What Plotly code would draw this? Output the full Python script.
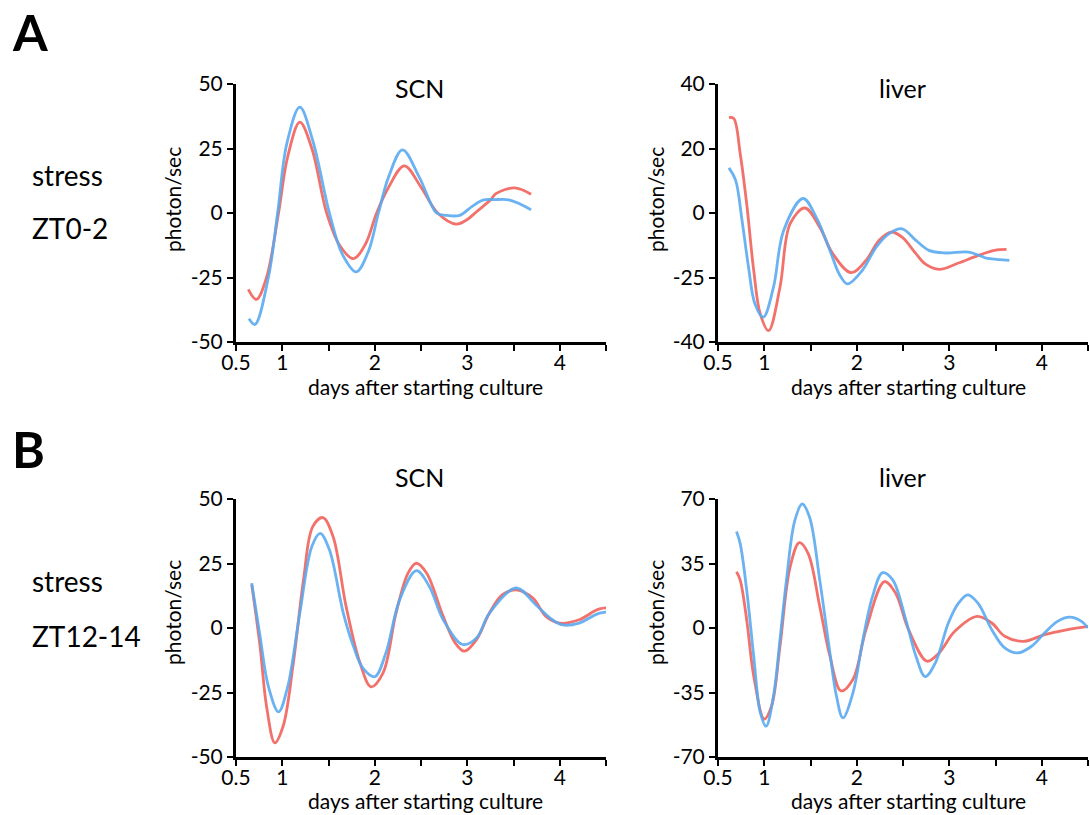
import plotly.graph_objects as go

# ---------------- data ----------------
# Panel A, SCN
a_scn_red_x = [0.633, 0.72, 0.83, 0.96, 1.06, 1.19, 1.32, 1.48, 1.62, 1.77, 1.90, 2.02, 2.15, 2.32, 2.50, 2.68, 2.88, 3.00, 3.10, 3.25, 3.31, 3.51, 3.69]
a_scn_red_y = [-29.6, -33.5, -25.0, 0.0, 22.0, 35.2, 25.0, 0.0, -12.5, -17.7, -12.0, 0.0, 10.0, 18.3, 10.0, 0.0, -4.3, -2.5, 0.5, 5.0, 7.5, 9.7, 7.3]
a_scn_blue_x = [0.64, 0.705, 0.85, 0.95, 1.05, 1.19, 1.33, 1.51, 1.65, 1.80, 1.93, 2.04, 2.15, 2.30, 2.48, 2.67, 2.77, 2.92, 3.05, 3.17, 3.30, 3.46, 3.69]
a_scn_blue_y = [-41.0, -43.2, -25.0, 0.0, 27.0, 41.0, 28.0, 0.0, -16.0, -22.8, -15.0, 0.0, 14.0, 24.5, 14.0, 0.0, -0.9, -0.9, 2.5, 5.0, 5.2, 5.0, 1.3]

# Panel A, liver (plotted on a linear scale; tick labels as printed)
a_liv_red_x = [0.618, 0.67, 0.74, 0.81, 0.886, 0.957, 1.046, 1.17, 1.28, 1.44, 1.60, 1.74, 1.94, 2.10, 2.24, 2.37, 2.49, 2.64, 2.74, 2.89, 3.10, 3.31, 3.49, 3.62]
a_liv_red_y = [29.6, 29.3, 18.4, 2.9, -17.8, -31.3, -36.5, -23.0, -3.3, 1.55, -4.4, -12.6, -18.5, -14.7, -8.5, -5.9, -7.5, -12.6, -15.8, -17.5, -15.5, -13.2, -11.6, -11.3]
a_liv_blue_x = [0.618, 0.69, 0.76, 0.83, 0.90, 0.99, 1.10, 1.21, 1.42, 1.56, 1.71, 1.81, 1.90, 2.06, 2.21, 2.35, 2.49, 2.64, 2.78, 2.96, 3.21, 3.39, 3.46, 3.65]
a_liv_blue_y = [14.0, 10.2, -2.3, -16.8, -28.2, -32.3, -23.0, -5.4, 4.5, -1.2, -11.6, -18.9, -22.0, -17.8, -10.6, -6.4, -4.9, -8.5, -11.6, -12.4, -12.1, -13.9, -14.2, -14.7]

# Panel B, SCN
b_scn_red_x = [0.67, 0.76, 0.83, 0.92, 1.01, 1.12, 1.23, 1.33, 1.44, 1.55, 1.69, 1.84, 1.96, 2.09, 2.23, 2.36, 2.45, 2.56, 2.74, 2.87, 2.97, 3.10, 3.24, 3.38, 3.53, 3.71, 3.85, 4.00, 4.21, 4.43, 4.63]
b_scn_red_y = [16.8, -7.1, -30.3, -44.5, -38.0, -13.5, 18.7, 39.3, 42.8, 35.4, 8.4, -13.5, -22.8, -17.4, 5.8, 21.3, 25.1, 21.3, 4.5, -5.8, -9.0, -4.5, 5.8, 12.9, 14.8, 11.6, 4.5, 1.9, 3.2, 7.4, 7.7]
b_scn_blue_x = [0.67, 0.76, 0.85, 0.96, 1.06, 1.19, 1.32, 1.41, 1.51, 1.66, 1.77, 1.87, 2.00, 2.12, 2.27, 2.45, 2.59, 2.74, 2.95, 3.10, 3.24, 3.53, 3.74, 3.92, 4.03, 4.21, 4.43, 4.63]
b_scn_blue_y = [17.4, -3.2, -22.6, -32.5, -22.6, 5.8, 31.6, 36.7, 30.3, 5.8, -7.1, -15.5, -18.9, -9.7, 11.0, 22.2, 16.1, 3.2, -6.4, -3.9, 5.8, 15.5, 9.0, 3.2, 1.2, 1.9, 5.8, 6.2]

# Panel B, liver
b_liv_red_x = [0.70, 0.74, 0.81, 0.886, 1.00, 1.08, 1.17, 1.28, 1.38, 1.475, 1.60, 1.71, 1.83, 1.96, 2.10, 2.30, 2.42, 2.56, 2.76, 2.89, 3.06, 3.30, 3.46, 3.60, 3.81, 4.03, 4.28, 4.50]
b_liv_red_y = [30.5, 26.0, 4.5, -26.0, -49.4, -42.2, -9.9, 33.2, 46.3, 40.4, 11.7, -15.3, -34.1, -27.8, -0.9, 25.1, 18.9, -0.9, -18.0, -13.5, -1.8, 6.3, 2.7, -4.5, -7.2, -3.6, -0.9, 0.9]
b_liv_blue_x = [0.70, 0.74, 0.81, 0.886, 0.957, 1.02, 1.10, 1.17, 1.24, 1.33, 1.41, 1.49, 1.60, 1.71, 1.78, 1.85, 1.96, 2.06, 2.17, 2.28, 2.39, 2.53, 2.64, 2.74, 2.85, 2.99, 3.10, 3.20, 3.31, 3.46, 3.60, 3.74, 3.89, 4.03, 4.17, 4.30, 4.43, 4.50]
b_liv_blue_y = [52.4, 45.8, 20.6, -15.3, -45.8, -53.3, -36.8, -6.3, 26.0, 58.3, 67.3, 60.1, 26.0, -13.5, -36.8, -48.8, -35.0, -8.1, 17.0, 30.0, 26.0, 4.5, -15.3, -26.4, -18.9, 2.7, 13.5, 18.0, 13.5, -0.9, -10.8, -13.5, -9.9, -2.7, 3.6, 5.9, 3.6, 0.0]

x_tickvals = [0.5, 1, 1.5, 2, 2.5, 3, 3.5, 4, 4.5]
x_ticktext = ["0.5", "1", "", "2", "", "3", "", "4", ""]

a_scn_yvals = [-50, -25, 0, 25, 50]
a_scn_ytext = ["-50", "-25", "0", "25", "50"]
a_liv_yvals = [-40, -20, 0, 20, 40]
a_liv_ytext = ["-40", "-25", "0", "20", "40"]
b_scn_yvals = [-50, -25, 0, 25, 50]
b_scn_ytext = ["-50", "-25", "0", "25", "50"]
b_liv_yvals = [-70, -35, 0, 35, 70]
b_liv_ytext = ["-70", "-35", "0", "35", "70"]

RED = "#F2625C"
BLUE = "#5AAAF0"
FONT = "Lato"

W, H = 1090, 815

fig = go.Figure()

panels = [
    ("x", "y", a_scn_red_x, a_scn_red_y, a_scn_blue_x, a_scn_blue_y),
    ("x2", "y2", a_liv_red_x, a_liv_red_y, a_liv_blue_x, a_liv_blue_y),
    ("x3", "y3", b_scn_red_x, b_scn_red_y, b_scn_blue_x, b_scn_blue_y),
    ("x4", "y4", b_liv_red_x, b_liv_red_y, b_liv_blue_x, b_liv_blue_y),
]
for xa, ya, rx, ry, bx, by in panels:
    fig.add_trace(go.Scatter(x=rx, y=ry, xaxis=xa, yaxis=ya, mode="lines",
                             line=dict(color=RED, width=2.8, shape="spline", smoothing=1.0),
                             opacity=0.9, showlegend=False, hoverinfo="skip"))
    fig.add_trace(go.Scatter(x=bx, y=by, xaxis=xa, yaxis=ya, mode="lines",
                             line=dict(color=BLUE, width=2.8, shape="spline", smoothing=1.0),
                             opacity=0.9, showlegend=False, hoverinfo="skip"))


def px_x(p):
    return p / W


def px_y(p):
    return 1 - p / H


left_dom = [px_x(236), px_x(606)]
right_dom = [px_x(718), px_x(1088)]
top_dom = [px_y(342), px_y(84)]
bot_dom = [px_y(757), px_y(499)]

xcommon = dict(range=[0.5, 4.5], tickmode="array", tickvals=x_tickvals, ticktext=x_ticktext,
               showline=True, linecolor="black", linewidth=3, ticks="outside", ticklen=6,
               tickwidth=2, tickcolor="black", showgrid=False, zeroline=False, automargin=False,
               ticklabelstandoff=-6,
               tickfont=dict(family=FONT, size=21, color="black"), fixedrange=True)
ycommon = dict(tickmode="array", showline=True, linecolor="black", linewidth=3,
               ticks="outside", ticklen=6, tickwidth=2, tickcolor="black",
               showgrid=False, zeroline=False, automargin=False,
               tickfont=dict(family=FONT, size=21, color="black"), fixedrange=True)

fig.update_layout(
    width=W, height=H, margin=dict(l=0, r=0, t=0, b=0, pad=0, autoexpand=False),
    paper_bgcolor="white", plot_bgcolor="white",
    font=dict(family=FONT, color="black"),
    xaxis=dict(domain=left_dom, anchor="y", **xcommon),
    yaxis=dict(domain=top_dom, anchor="x", range=[-50, 50], tickvals=a_scn_yvals, ticktext=a_scn_ytext, **ycommon),
    xaxis2=dict(domain=right_dom, anchor="y2", **xcommon),
    yaxis2=dict(domain=top_dom, anchor="x2", range=[-40, 40], tickvals=a_liv_yvals, ticktext=a_liv_ytext, **ycommon),
    xaxis3=dict(domain=left_dom, anchor="y3", **xcommon),
    yaxis3=dict(domain=bot_dom, anchor="x3", range=[-50, 50], tickvals=b_scn_yvals, ticktext=b_scn_ytext, **ycommon),
    xaxis4=dict(domain=right_dom, anchor="y4", **xcommon),
    yaxis4=dict(domain=bot_dom, anchor="x4", range=[-70, 70], tickvals=b_liv_yvals, ticktext=b_liv_ytext, **ycommon),
)

ann = []


def text(x, y, s, size, bold=False, angle=0, xanchor="center"):
    ann.append(dict(x=px_x(x), y=px_y(y), xref="paper", yref="paper", text=("<b>%s</b>" % s) if bold else s,
                    showarrow=False, xanchor=xanchor, yanchor="middle", textangle=angle,
                    font=dict(family=FONT, size=size, color="black")))


# panel letters
text(10, 32, "A", 50, bold=True, xanchor="left")
text(10, 449, "B", 50, bold=True, xanchor="left")
# row labels
text(30, 175, "stress", 28, xanchor="left")
text(30, 228, "ZT0-2", 28, xanchor="left")
text(30, 581, "stress", 28, xanchor="left")
text(30, 636, "ZT12-14", 28, xanchor="left")
# subplot titles
text(419, 88, "SCN", 25)
text(902, 88, "liver", 25)
text(419, 477, "SCN", 25)
text(902, 477, "liver", 25)
# axis titles
for yc, xt in ((200, 387), (613, 800)):
    text(172, yc, "photon/sec", 21, angle=-90)
    text(655, yc, "photon/sec", 21, angle=-90)
    text(425, xt, "days after starting culture", 21)
    text(908, xt, "days after starting culture", 21)

fig.update_layout(annotations=ann)

fig.write_html("out.html", config={"displayModeBar": False},
               post_script="document.body.style.margin='0px';document.body.style.overflow='hidden';")
